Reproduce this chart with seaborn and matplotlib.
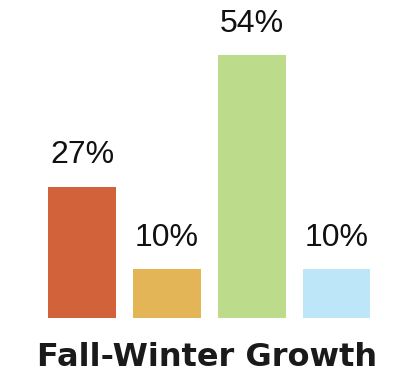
import matplotlib
matplotlib.use("Agg")
import matplotlib.pyplot as plt
import seaborn as sns
import pandas as pd

categories = ["A", "B", "C", "D"]
values = [27, 10, 54, 10]
labels = ["27%", "10%", "54%", "10%"]
colors = ["#D1623A", "#E3B557", "#BCDC8C", "#BDE6F8"]
title = "Fall-Winter Growth"

sns.set_theme(style="white")
plt.rcParams["font.family"] = ["Liberation Sans", "DejaVu Sans"]

df = pd.DataFrame({"cat": categories, "val": values})

fig = plt.figure(figsize=(3.96, 3.78), dpi=100)
ax = fig.add_axes([0, 0, 1, 1])
sns.barplot(data=df, x="cat", y="val", hue="cat", palette=colors,
            width=0.8, legend=False, ax=ax, saturation=1, linewidth=0)

ax.set_xlim(-0.967, 3.701)
ax.set_ylim(-12.32, 65.3)
ax.axis("off")

for i, (v, lab) in enumerate(zip(values, labels)):
    ax.text(i, v + 4.8, lab, ha="center", va="baseline", fontsize=23,
            color="#111111")

fig.text(207 / 396, 12 / 378, title, ha="center", va="baseline",
         fontsize=23, fontweight="bold", color="#1a1a1a",
         family=["DejaVu Sans"])

fig.savefig("out.png", dpi=100)
